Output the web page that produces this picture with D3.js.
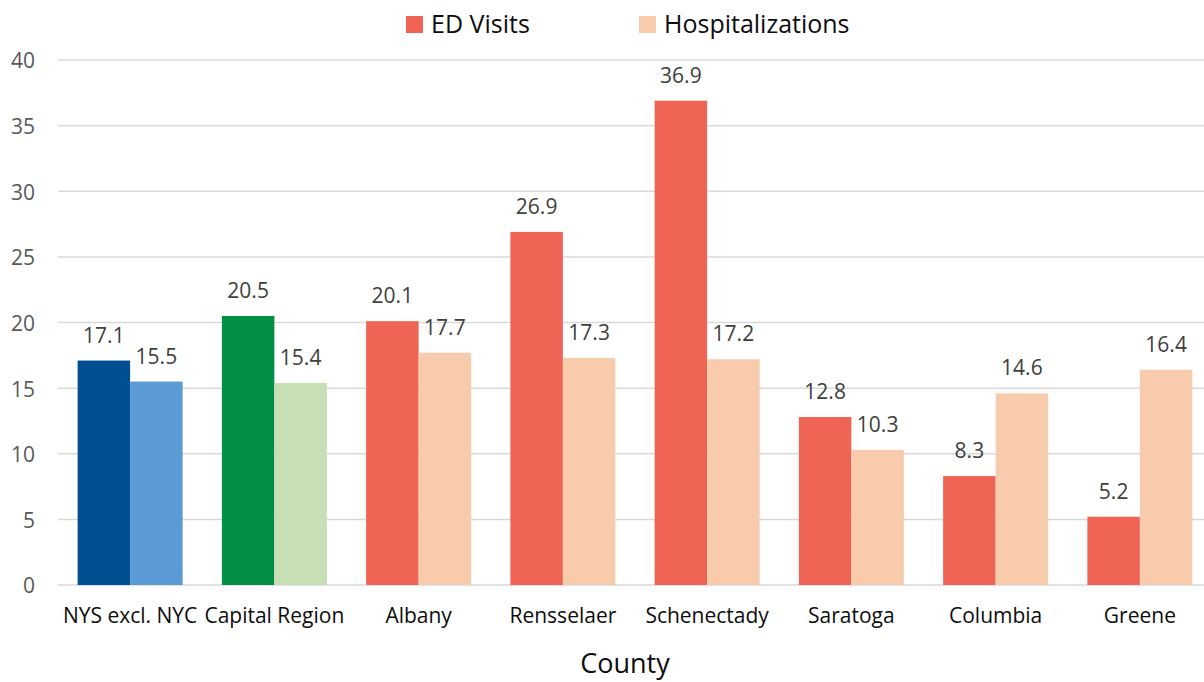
<!DOCTYPE html>
<html><head><meta charset="utf-8">
<script src="https://cdn.jsdelivr.net/npm/d3@7"></script>
<style>body{margin:0;background:#fff}svg{display:block}text{font-family:"Open Sans","Noto Sans",sans-serif}</style>
</head><body><svg id="c" width="1204" height="682"></svg>
<script>
const categories = ["NYS excl. NYC","Capital Region","Albany","Rensselaer","Schenectady","Saratoga","Columbia","Greene"];
const edVisits = [17.1,20.5,20.1,26.9,36.9,12.8,8.3,5.2];
const hospitalizations = [15.5,15.4,17.7,17.3,17.2,10.3,14.6,16.4];
const yTicks = [0,5,10,15,20,25,30,35,40];
const seriesNames = ["ED Visits","Hospitalizations"];
const edColors = ["#004f91","#038f45","#f06456","#f06456","#f06456","#f06456","#f06456","#f06456"];
const hospColors = ["#5b9bd5","#c6dfb4","#f8cbad","#f8cbad","#f8cbad","#f8cbad","#f8cbad","#f8cbad"];

(function(){
const svg = d3.select("#c");
const pL = 58, pR = 1212, pT = 60, pB = 585;
const x = d3.scaleBand().domain(categories).range([pL, pR]).padding(0);
const y = d3.scaleLinear().domain([0,40]).range([pB, pT]);
const barW = 52.5;
const ff = '"Open Sans","Noto Sans",sans-serif';

svg.append("g").selectAll("line").data(yTicks).join("line")
  .attr("x1", pL).attr("x2", 1204)
  .attr("y1", d=>y(d)).attr("y2", d=>y(d))
  .attr("stroke", "#d9d9d9").attr("stroke-width", 1.5);

const yAxis = d3.axisLeft(y).tickValues(yTicks).tickSize(0).tickPadding(0);
const ya = svg.append("g").attr("transform", `translate(35,0)`).call(yAxis);
ya.select(".domain").remove();
ya.selectAll("text").attr("font-size", 21).attr("fill", "#595959").attr("dy", "0.38em").style("font-family", ff);

const series = [
  {vals: edVisits, colors: edColors, off: -barW},
  {vals: hospitalizations, colors: hospColors, off: 0}
];
series.forEach(s => {
  const g = svg.append("g");
  g.selectAll("rect").data(categories).join("rect")
    .attr("x", (c) => x(c) + x.bandwidth()/2 + s.off)
    .attr("width", barW)
    .attr("y", (c,i) => y(s.vals[i]))
    .attr("height", (c,i) => y(0) - y(s.vals[i]))
    .attr("fill", (c,i) => s.colors[i]);
  g.selectAll("text").data(categories).join("text")
    .attr("x", (c) => x(c) + x.bandwidth()/2 + s.off + barW/2)
    .attr("y", (c,i) => y(s.vals[i]) - 18)
    .attr("text-anchor", "middle").attr("font-size", 21).attr("fill", "#404040")
    .text((c,i) => s.vals[i].toFixed(1));
});

const xAxis = d3.axisBottom(x).tickSize(0).tickPadding(0);
const xa = svg.append("g").attr("transform", `translate(0,${pB})`).call(xAxis);
xa.select(".domain").remove();
xa.selectAll("text").attr("font-size", 21).attr("fill", "#0d0d0d").attr("dy", null).attr("y", 38)
  .style("font-family", ff);

svg.append("text").attr("x", 625).attr("y", 673).attr("text-anchor","middle")
  .attr("font-size", 27).attr("fill", "#0d0d0d").text("County");

const legX = [406, 639];
const legCol = ["#f06456","#f8cbad"];
seriesNames.forEach((n,i) => {
  svg.append("rect").attr("x", legX[i]).attr("y", 16).attr("width", 17).attr("height", 17).attr("fill", legCol[i]);
  svg.append("text").attr("x", legX[i]+25).attr("y", 33).attr("font-size", 25).attr("fill", "#0d0d0d").text(n);
});
})();
</script></body></html>
